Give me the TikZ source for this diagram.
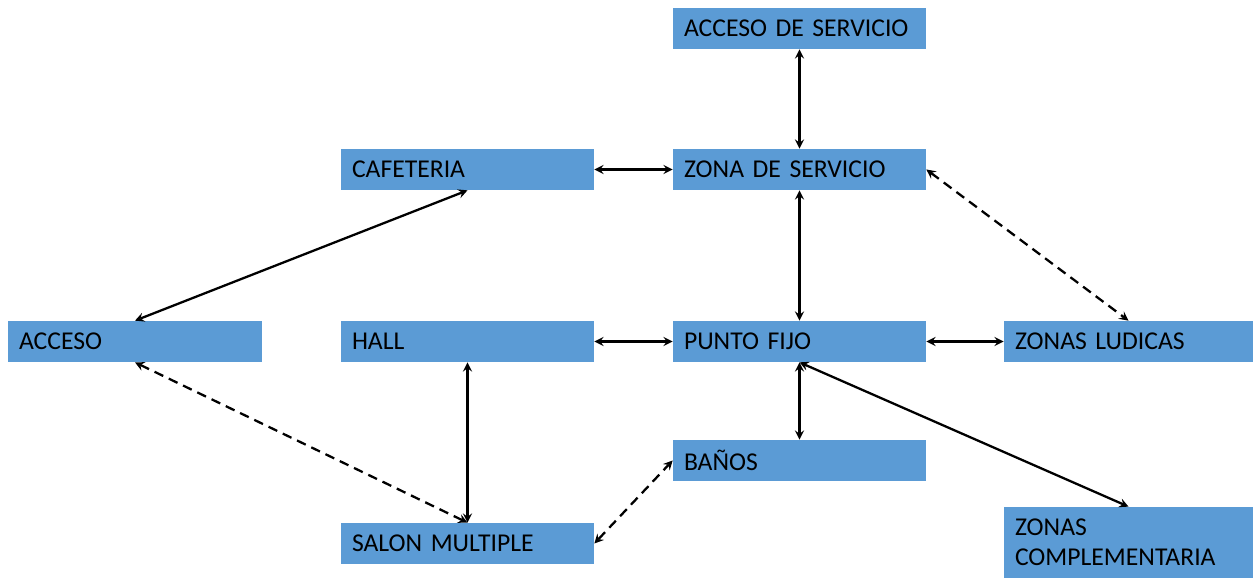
\documentclass[tikz,border=0pt]{standalone}
\usepackage{fontspec}
\setmainfont{Carlito}
\usetikzlibrary{arrows, positioning, calc}
\usepackage{xcolor}
\definecolor{zoneblue}{RGB}{91, 155, 213}
\tikzstyle{zone} = [rectangle, minimum width=5.06cm, minimum height=0.82cm, text width=4.62cm, inner xsep=0.22cm, align=left, fill=zoneblue, font=\fontsize{14.6}{17}\selectfont]
\tikzstyle{link} = [<->, >=stealth, line width=1.3pt, black]
\tikzstyle{weak} = [dash pattern=on 5.5pt off 3.5pt]

\begin{document}
\begin{tikzpicture}
\useasboundingbox (0,0) rectangle (25.06,-11.56);
% Zones
\node[zone] (accserv) at (15.99,-0.57) {ACCESO DE SERVICIO};
\node[zone] (cafe) at (9.35,-3.39) {CAFETERIA};
\node[zone] (zonaserv) at (15.99,-3.39) {ZONA DE SERVICIO};
\node[zone, minimum width=5.08cm, text width=4.64cm] (acceso) at (2.7,-6.83) {ACCESO};
\node[zone] (hall) at (9.35,-6.83) {HALL};
\node[zone] (punto) at (15.99,-6.83) {PUNTO FIJO};
\node[zone, minimum width=4.98cm, text width=4.54cm] (ludicas) at (22.57,-6.83) {ZONAS LUDICAS};
\node[zone] (banos) at (15.99,-9.21) {BAÑOS};
\node[zone] (salon) at (9.35,-10.87) {SALON MULTIPLE};
\node[zone, minimum width=4.98cm, text width=4.54cm, minimum height=1.42cm] (compl) at (22.57,-10.85) {ZONAS\\COMPLEMENTARIA};

% Links
\draw[link] (accserv.south) -- (zonaserv.north);
\draw[link] (cafe) -- (zonaserv);
\draw[link] (zonaserv.south) -- (punto.north);
\draw[link, weak] (zonaserv.east) -- (ludicas.north);
\draw[link] (cafe.south) -- (acceso.north);
\draw[link] (hall) -- (punto);
\draw[link] (punto) -- (ludicas);
\draw[link, weak] (acceso.south) -- (salon.north);
\draw[link] (hall.south) -- (salon.north);
\draw[link, weak] (salon.east) -- (banos.west);
\draw[link] (punto.south) -- (banos.north);
\draw[link] (punto.south) -- (compl.north);
\end{tikzpicture}
\end{document}
